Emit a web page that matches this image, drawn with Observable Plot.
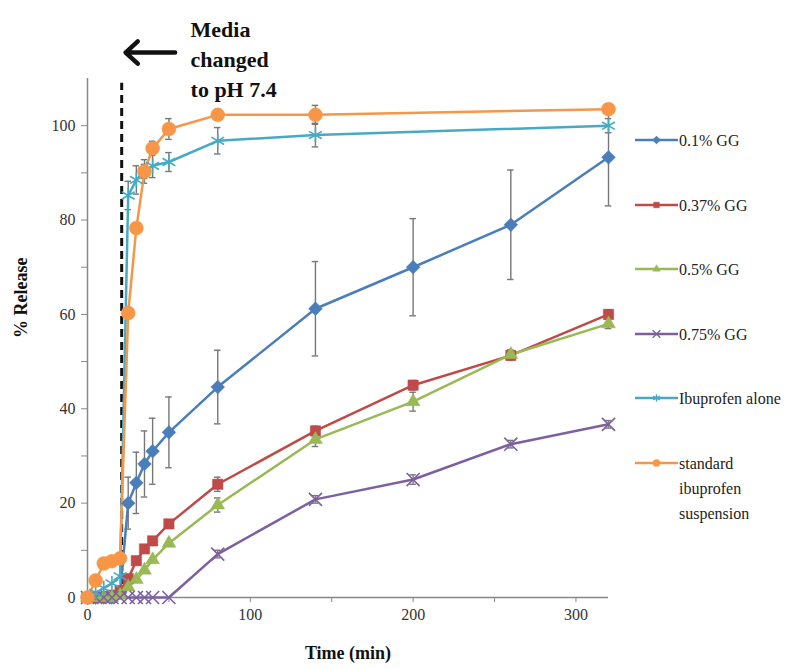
<!DOCTYPE html>
<html><head><meta charset="utf-8">
<script src="https://cdn.jsdelivr.net/npm/d3@7"></script>
<script src="https://cdn.jsdelivr.net/npm/@observablehq/plot@0.6"></script>
<style>
body{margin:0;background:#fff;}
#wrap{position:relative;width:800px;height:669px;font-family:"Liberation Serif","Times New Roman",serif;}
.row{position:absolute;left:635px;display:flex;align-items:flex-start;font-size:16px;color:#222;line-height:25px;}
.row svg{flex:none;margin-top:2px;}
.row span{margin-left:1px;}
</style></head><body><div id="wrap"></div>
<script>
// ---- data ----
const times = [0, 5, 10, 15, 20, 25, 30, 35, 40, 50, 80, 140, 200, 260, 320];
const seriesNames = ["0.1% GG", "0.37% GG", "0.5% GG", "0.75% GG", "Ibuprofen alone", "standard ibuprofen suspension"];
const gg01      = [0, 0, 0, 0, 1, 20, 24.3, 28.3, 31, 35, 44.6, 61.2, 70, 79, 93.3];
const gg01Err   = [0, 0, 0, 0, 0, 5.5, 6.5, 7, 7, 7.5, 7.8, 10, 10.3, 11.6, 10.3];
const gg037     = [0, 0, 0, 0.5, 1.5, 4, 7.8, 10.3, 12, 15.6, 24, 35.3, 45, 51.3, 60];
const gg037Err  = [0, 0, 0, 0, 0, 0, 0, 0, 0, 0, 1.5, 1, 1, 1, 1];
const gg05      = [0, 0, 0, 0, 0.5, 2.2, 3.8, 5.8, 8, 11.5, 19.6, 33.5, 41.5, 51.5, 58];
const gg05Err   = [0, 0, 0, 0, 0, 0, 0, 0, 0, 0, 1.5, 1.5, 2, 1, 1];
const gg075     = [0, 0, 0, 0, 0, 0, 0, 0, 0, 0, 9.2, 20.8, 25, 32.5, 36.7];
const gg075Err  = [0, 0, 0, 0, 0, 0, 0, 0, 0, 0, 0.8, 0.8, 1, 0.8, 0.8];
const ibu       = [0, 1, 2, 3, 4.5, 85.2, 88.5, 90.3, 91.5, 92.3, 96.8, 98, null, null, 100];
const ibuErr    = [0, 0, 0, 0, 0, 3, 3, 2.5, 2.5, 2, 2.8, 2.5, null, null, 1.5];
const std       = [0, 3.6, 7.2, 7.7, 8.3, 60.3, 78.3, 90.3, 95.2, 99.3, 102.3, 102.3, null, null, 103.5];
const stdErr    = [0, 0, 0, 0, 0, 1, 1, 1.5, 1.5, 2.2, 0.8, 2, null, null, 0.8];
const colors = ["#4a7ebb", "#be4b48", "#98b954", "#7d60a0", "#46aac5", "#f79646"];
const symbols = ["diamond2", "square2", "triangle2", "times", "asterisk", "circle"];
const xTicks = [0, 50, 100, 150, 200, 250, 300];
const yTicks = [0, 10, 20, 30, 40, 50, 60, 70, 80, 90, 100];
const mediaChangeTime = 21;
const annotationText = "Media\nchanged\nto pH 7.4";

// ---- build table ----
const values = [gg01, gg037, gg05, gg075, ibu, std];
const errs = [gg01Err, gg037Err, gg05Err, gg075Err, ibuErr, stdErr];
const rows = [];
values.forEach((arr, i) => arr.forEach((v, j) => {
  if (v != null) rows.push({series: seriesNames[i], idx: i, t: times[j], v, e: errs[i][j]});
}));
const errRows = rows.filter(d => d.e > 0);
const capHalf = 2;

const dotMarks = seriesNames.map((name, i) => {
  const data = rows.filter(d => d.idx === i);
  const strokeSym = symbols[i] === "times" || symbols[i] === "asterisk";
  const r = [6.2, 6.6, 6.6, 6, 7, 7][i];
  return Plot.dot(data, {
    x: "t", y: "v", symbol: () => symbols[i], r,
    fill: strokeSym ? "none" : colors[i],
    stroke: colors[i], strokeWidth: strokeSym ? 1.6 : 0.5
  });
});

const plot = Plot.plot({
  width: 800, height: 669,
  marginLeft: 87, marginRight: 192, marginTop: 78, marginBottom: 72,
  style: {fontFamily: "'Liberation Serif', 'Times New Roman', serif", fontSize: "16px", background: "transparent", overflow: "visible"},
  x: {domain: [0, 320]},
  y: {domain: [0, 110]},
  symbol: {domain: symbols, range: symbols},
  marks: [
    Plot.axisX({ticks: xTicks, tickFormat: d => d % 100 === 0 ? d : "", tickSize: 5, tickPadding: 6, stroke: "#888", fill: "#333", label: null}),
    Plot.axisY({ticks: yTicks, tickFormat: d => d % 20 === 0 ? d : "", tickSize: 6, tickPadding: 6, stroke: "#888", fill: "#333", label: null}),
    Plot.ruleY([0], {stroke: "#888", strokeWidth: 1.5}),
    Plot.ruleX([0], {y1: 0, y2: 110, stroke: "#888", strokeWidth: 1.5}),
    Plot.ruleX([mediaChangeTime], {y1: 0, y2: 109, stroke: "#111", strokeWidth: 3, strokeDasharray: "8,5"}),
    Plot.ruleX(errRows, {x: "t", y1: d => d.v - d.e, y2: d => d.v + d.e, stroke: "#777", strokeWidth: 1.4}),
    Plot.ruleY(errRows, {y: d => d.v + d.e, x1: d => d.t - capHalf, x2: d => d.t + capHalf, stroke: "#777", strokeWidth: 1.4}),
    Plot.ruleY(errRows, {y: d => d.v - d.e, x1: d => d.t - capHalf, x2: d => d.t + capHalf, stroke: "#777", strokeWidth: 1.4}),
    Plot.line(rows, {x: "t", y: "v", z: "series", stroke: d => colors[d.idx], strokeWidth: 2.5}),
    ...dotMarks,
    Plot.text([annotationText], {x: 63.3, y: 123.2, text: d => d, textAnchor: "start", lineAnchor: "top", lineHeight: 1.36, fontSize: 22, fontWeight: "bold", fill: "#111"}),
    Plot.arrow([0], {x1: 53.8, x2: 23.4, y1: 115.5, y2: 115.5, stroke: "#111", strokeWidth: 4.5, headLength: 9, headAngle: 85}),
    Plot.text(["% Release"], {frameAnchor: "left", dx: -66, rotate: -90, fontWeight: "bold", fontSize: 18, fill: "#111"}),
    Plot.text(["Time (min)"], {frameAnchor: "bottom", dy: 61, fontWeight: "bold", fontSize: 18, fill: "#111"})
  ]
});

const wrap = document.getElementById("wrap");
wrap.appendChild(plot);

// ---- legend ----
const legendLabels = ["0.1% GG", "0.37% GG", "0.5% GG", "0.75% GG", "Ibuprofen alone", "standard<br>ibuprofen<br>suspension"];
const symMap = {diamond2: d3.symbolDiamond2, square2: d3.symbolSquare2, triangle2: d3.symbolTriangle2, times: d3.symbolTimes, asterisk: d3.symbolAsterisk, circle: d3.symbolCircle};
legendLabels.forEach((lab, i) => {
  const row = document.createElement("div");
  row.className = "row";
  row.style.top = (128 + i * 64.6) + "px";
  const strokeSym = symbols[i] === "times" || symbols[i] === "asterisk";
  const path = d3.symbol(symMap[symbols[i]], 40)();
  row.innerHTML = `<svg width="43" height="20"><line x1="0" x2="43" y1="10" y2="10" stroke="${colors[i]}" stroke-width="2.5"/>` +
    `<path d="${path}" transform="translate(21.5,10)" fill="${strokeSym ? "none" : colors[i]}" stroke="${colors[i]}" stroke-width="${strokeSym ? 1.3 : 0.5}"/></svg><span>${lab}</span>`;
  wrap.appendChild(row);
});
</script></body></html>
